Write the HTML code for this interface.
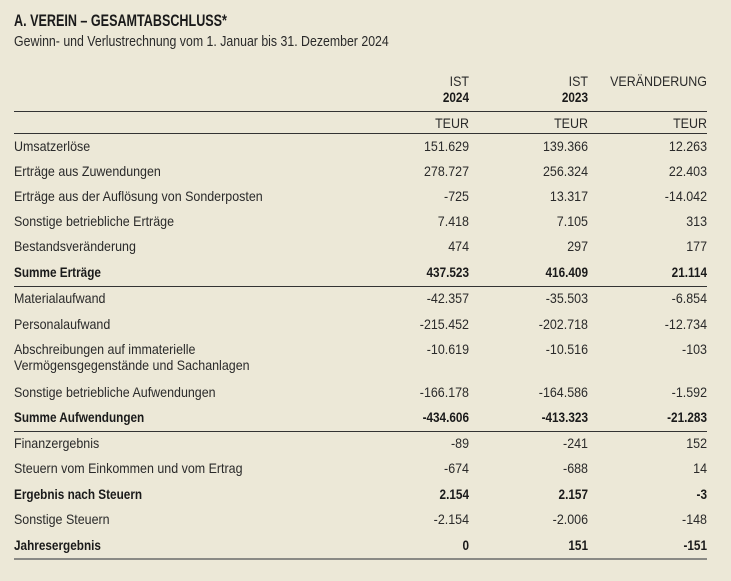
<!DOCTYPE html>
<html><head><meta charset="utf-8"><style>
body{margin:0;width:731px;height:581px;background:#ece8d7;position:relative;overflow:hidden;font-family:"Liberation Sans",sans-serif;color:#2a2a2a;font-size:14px}
div{position:absolute;white-space:nowrap;line-height:16px}
.l{left:14px;transform:scaleX(0.89);transform-origin:left center}
.c1,.c2,.c3{text-align:right;width:150px;transform:scaleX(0.89);transform-origin:right center}
.c1{left:319px}.c2{left:438px}.c3{left:557px}
.b{font-weight:bold;color:#1a1a1a}
.b.l{transform:scaleX(0.84)}
.b.c1,.b.c2,.b.c3{transform:scaleX(0.84)}
.hr{left:14px;width:693px;height:0;border-top:1px solid #333;transform:none}
</style></head><body>
<div class="l b" style="top:13px;font-size:17px;transform:scaleX(0.74)">A. VEREIN – GESAMTABSCHLUSS*</div>
<div class="l" style="top:34px;font-size:14.5px;transform:scaleX(0.85)">Gewinn- und Verlustrechnung vom 1. Januar bis 31. Dezember 2024</div>
<div class="c1" style="top:73px">IST</div><div class="c1 b" style="top:89px">2024</div>
<div class="c2" style="top:73px">IST</div><div class="c2 b" style="top:89px">2023</div>
<div class="c3" style="top:73px">VERÄNDERUNG</div>
<div class="hr" style="top:111px"></div>
<div class="c1" style="top:115px">TEUR</div><div class="c2" style="top:115px">TEUR</div><div class="c3" style="top:115px">TEUR</div>
<div class="hr" style="top:133px"></div>

<div class="l" style="top:138px">Umsatzerlöse</div><div class="c1" style="top:138px">151.629</div><div class="c2" style="top:138px">139.366</div><div class="c3" style="top:138px">12.263</div>
<div class="l" style="top:163px">Erträge aus Zuwendungen</div><div class="c1" style="top:163px">278.727</div><div class="c2" style="top:163px">256.324</div><div class="c3" style="top:163px">22.403</div>
<div class="l" style="top:188px">Erträge aus der Auflösung von Sonderposten</div><div class="c1" style="top:188px">-725</div><div class="c2" style="top:188px">13.317</div><div class="c3" style="top:188px">-14.042</div>
<div class="l" style="top:213px">Sonstige betriebliche Erträge</div><div class="c1" style="top:213px">7.418</div><div class="c2" style="top:213px">7.105</div><div class="c3" style="top:213px">313</div>
<div class="l" style="top:238px">Bestandsveränderung</div><div class="c1" style="top:238px">474</div><div class="c2" style="top:238px">297</div><div class="c3" style="top:238px">177</div>
<div class="l b" style="top:264px">Summe Erträge</div><div class="c1 b" style="top:264px">437.523</div><div class="c2 b" style="top:264px">416.409</div><div class="c3 b" style="top:264px">21.114</div>
<div class="hr" style="top:286px"></div>
<div class="l" style="top:290px">Materialaufwand</div><div class="c1" style="top:290px">-42.357</div><div class="c2" style="top:290px">-35.503</div><div class="c3" style="top:290px">-6.854</div>
<div class="l" style="top:316px">Personalaufwand</div><div class="c1" style="top:316px">-215.452</div><div class="c2" style="top:316px">-202.718</div><div class="c3" style="top:316px">-12.734</div>
<div class="l" style="top:341px">Abschreibungen auf immaterielle</div><div class="l" style="top:357px">Vermögensgegenstände und Sachanlagen</div><div class="c1" style="top:341px">-10.619</div><div class="c2" style="top:341px">-10.516</div><div class="c3" style="top:341px">-103</div>
<div class="l" style="top:384px">Sonstige betriebliche Aufwendungen</div><div class="c1" style="top:384px">-166.178</div><div class="c2" style="top:384px">-164.586</div><div class="c3" style="top:384px">-1.592</div>
<div class="l b" style="top:409px">Summe Aufwendungen</div><div class="c1 b" style="top:409px">-434.606</div><div class="c2 b" style="top:409px">-413.323</div><div class="c3 b" style="top:409px">-21.283</div>
<div class="hr" style="top:431px"></div>
<div class="l" style="top:435px">Finanzergebnis</div><div class="c1" style="top:435px">-89</div><div class="c2" style="top:435px">-241</div><div class="c3" style="top:435px">152</div>
<div class="l" style="top:460px">Steuern vom Einkommen und vom Ertrag</div><div class="c1" style="top:460px">-674</div><div class="c2" style="top:460px">-688</div><div class="c3" style="top:460px">14</div>
<div class="l b" style="top:486px">Ergebnis nach Steuern</div><div class="c1 b" style="top:486px">2.154</div><div class="c2 b" style="top:486px">2.157</div><div class="c3 b" style="top:486px">-3</div>
<div class="l" style="top:511px">Sonstige Steuern</div><div class="c1" style="top:511px">-2.154</div><div class="c2" style="top:511px">-2.006</div><div class="c3" style="top:511px">-148</div>
<div class="l b" style="top:537px">Jahresergebnis</div><div class="c1 b" style="top:537px">0</div><div class="c2 b" style="top:537px">151</div><div class="c3 b" style="top:537px">-151</div>
<div class="hr" style="top:558px;border-top:2px solid #8a8a85"></div>
</body></html>
